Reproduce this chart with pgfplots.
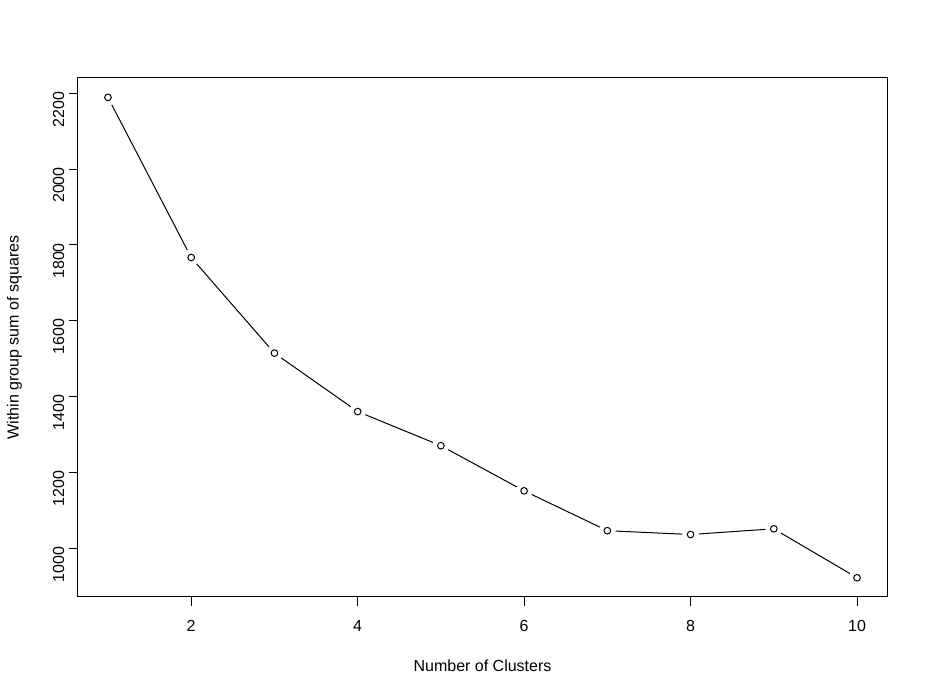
\documentclass[border=0pt]{standalone}
\usepackage{pgfplots}
\pgfplotsset{compat=1.18}
\usepackage{fontspec}
\setmainfont{Liberation Sans}
\begin{document}
\begin{tikzpicture}[x=1pt,y=1pt]
\begin{axis}[
  at={(0,0)}, anchor=south west,
  scale only axis,
  width=606.75pt, height=389.25pt,
  xmin=0.64, xmax=10.36, ymin=872.3, ymax=2240.1,
  xtick={2,4,6,8,10}, ytick={1000,1200,1400,1600,1800,2000,2200},
  tick align=outside, major tick length=6.75pt,
  tick style={black, line width=0.75pt},
  axis line style={line width=0.75pt},
  axis x line*=box, axis y line*=box,
  xtick pos=bottom, ytick pos=left,
  /pgf/number format/assume math mode=true,
  /pgf/number format/1000 sep={},
  tick label style={font=\fontsize{12}{14}\selectfont},
  xticklabel style={anchor=north, yshift=-7pt},
  yticklabel style={rotate=90, anchor=south, xshift=-12pt},
  xlabel={Number of Clusters}, ylabel={Within group sum of squares},
  label style={font=\fontsize{12}{14}\selectfont},
  xlabel style={at={(axis description cs:0.5,0)}, anchor=north, yshift=-43.5pt},
  ylabel style={at={(axis description cs:0,0.5)}, anchor=south, yshift=38.5pt},
  clip=false,
]
\addplot[black, line width=0.75pt] coordinates {
(1,2189) (2,1767) (3,1515) (4,1361) (5,1271) (6,1152) (7,1047) (8,1037) (9,1052) (10,923)};
\addplot[only marks, mark=*, mark size=6pt, white] coordinates {
(1,2189) (2,1767) (3,1515) (4,1361) (5,1271) (6,1152) (7,1047) (8,1037) (9,1052) (10,923)};
\addplot[only marks, mark=o, mark size=2.5pt, black, line width=0.75pt] coordinates {
(1,2189) (2,1767) (3,1515) (4,1361) (5,1271) (6,1152) (7,1047) (8,1037) (9,1052) (10,923)};
\end{axis}
\pgfresetboundingbox
\path[use as bounding box] (-58.5pt,-73.5pt) rectangle (637.5pt,447.75pt);
\end{tikzpicture}
\end{document}
